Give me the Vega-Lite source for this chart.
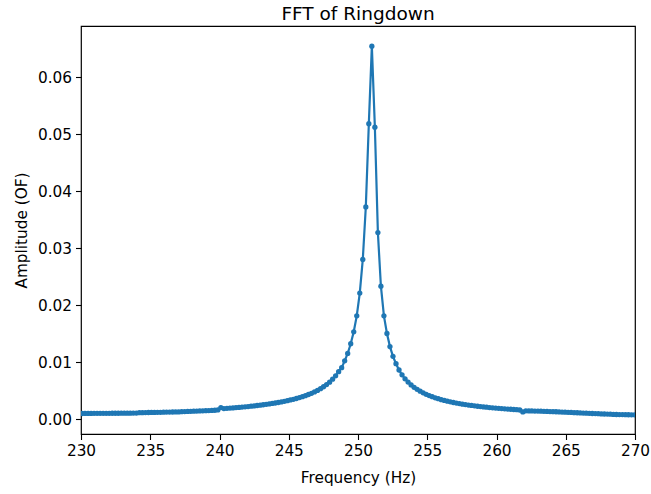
{
  "$schema": "https://vega.github.io/schema/vega-lite/v6.json",
  "width": 554,
  "height": 408,
  "autosize": "none",
  "padding": {"left": 81, "top": 26, "right": 16, "bottom": 60},
  "background": "white",
  "title": {"text": "FFT of Ringdown", "font": "DejaVu Sans", "fontSize": 18.5, "fontWeight": "normal", "color": "black", "anchor": "middle", "baseline": "alphabetic", "offset": -12},
  "data": {"values": [
    {"f": 229.854, "a": 0.00097}, {"f": 230.072, "a": 0.00097}, {"f": 230.290, "a": 0.00098}, {"f": 230.508, "a": 0.00098},
    {"f": 230.726, "a": 0.00098}, {"f": 230.944, "a": 0.00099}, {"f": 231.162, "a": 0.00099}, {"f": 231.380, "a": 0.00099},
    {"f": 231.598, "a": 0.00100}, {"f": 231.816, "a": 0.00100}, {"f": 232.034, "a": 0.00100}, {"f": 232.252, "a": 0.00101},
    {"f": 232.470, "a": 0.00101}, {"f": 232.688, "a": 0.00101}, {"f": 232.906, "a": 0.00102}, {"f": 233.124, "a": 0.00102},
    {"f": 233.342, "a": 0.00103}, {"f": 233.560, "a": 0.00103}, {"f": 233.778, "a": 0.00104}, {"f": 233.996, "a": 0.00104},
    {"f": 234.214, "a": 0.00111}, {"f": 234.432, "a": 0.00112}, {"f": 234.650, "a": 0.00113}, {"f": 234.868, "a": 0.00114},
    {"f": 235.086, "a": 0.00115}, {"f": 235.304, "a": 0.00116}, {"f": 235.522, "a": 0.00117}, {"f": 235.740, "a": 0.00118},
    {"f": 235.958, "a": 0.00119}, {"f": 236.176, "a": 0.00121}, {"f": 236.394, "a": 0.00122}, {"f": 236.612, "a": 0.00123},
    {"f": 236.830, "a": 0.00124}, {"f": 237.048, "a": 0.00125}, {"f": 237.266, "a": 0.00128}, {"f": 237.484, "a": 0.00131},
    {"f": 237.702, "a": 0.00133}, {"f": 237.920, "a": 0.00135}, {"f": 238.138, "a": 0.00137}, {"f": 238.356, "a": 0.00139},
    {"f": 238.574, "a": 0.00141}, {"f": 238.792, "a": 0.00143}, {"f": 239.010, "a": 0.00146}, {"f": 239.228, "a": 0.00148},
    {"f": 239.446, "a": 0.00151}, {"f": 239.664, "a": 0.00154}, {"f": 239.882, "a": 0.00160}, {"f": 240.100, "a": 0.00200},
    {"f": 240.318, "a": 0.00183}, {"f": 240.536, "a": 0.00187}, {"f": 240.754, "a": 0.00191}, {"f": 240.972, "a": 0.00195},
    {"f": 241.190, "a": 0.00200}, {"f": 241.408, "a": 0.00204}, {"f": 241.626, "a": 0.00209}, {"f": 241.844, "a": 0.00214},
    {"f": 242.062, "a": 0.00219}, {"f": 242.280, "a": 0.00225}, {"f": 242.498, "a": 0.00230}, {"f": 242.716, "a": 0.00237},
    {"f": 242.934, "a": 0.00243}, {"f": 243.152, "a": 0.00250}, {"f": 243.370, "a": 0.00257}, {"f": 243.588, "a": 0.00265},
    {"f": 243.806, "a": 0.00273}, {"f": 244.024, "a": 0.00281}, {"f": 244.242, "a": 0.00290}, {"f": 244.460, "a": 0.00300},
    {"f": 244.678, "a": 0.00310}, {"f": 244.896, "a": 0.00322}, {"f": 245.114, "a": 0.00334}, {"f": 245.332, "a": 0.00346},
    {"f": 245.550, "a": 0.00360}, {"f": 245.768, "a": 0.00376}, {"f": 245.986, "a": 0.00392}, {"f": 246.204, "a": 0.00410},
    {"f": 246.422, "a": 0.00430}, {"f": 246.640, "a": 0.00451}, {"f": 246.858, "a": 0.00475}, {"f": 247.076, "a": 0.00502},
    {"f": 247.294, "a": 0.00532}, {"f": 247.512, "a": 0.00566}, {"f": 247.730, "a": 0.00604}, {"f": 247.948, "a": 0.00647},
    {"f": 248.166, "a": 0.00698}, {"f": 248.384, "a": 0.00757}, {"f": 248.602, "a": 0.00830}, {"f": 248.820, "a": 0.00900},
    {"f": 249.038, "a": 0.01020}, {"f": 249.256, "a": 0.01150}, {"f": 249.474, "a": 0.01320}, {"f": 249.692, "a": 0.01530},
    {"f": 249.910, "a": 0.01810}, {"f": 250.128, "a": 0.02210}, {"f": 250.346, "a": 0.02800}, {"f": 250.564, "a": 0.03720},
    {"f": 250.782, "a": 0.05180}, {"f": 251.000, "a": 0.06540}, {"f": 251.218, "a": 0.05120}, {"f": 251.436, "a": 0.03270},
    {"f": 251.654, "a": 0.02330}, {"f": 251.872, "a": 0.01810}, {"f": 252.090, "a": 0.01500}, {"f": 252.308, "a": 0.01270},
    {"f": 252.526, "a": 0.01100}, {"f": 252.744, "a": 0.00970}, {"f": 252.962, "a": 0.00860}, {"f": 253.180, "a": 0.00775},
    {"f": 253.398, "a": 0.00705}, {"f": 253.616, "a": 0.00648}, {"f": 253.834, "a": 0.00598}, {"f": 254.052, "a": 0.00556},
    {"f": 254.270, "a": 0.00520}, {"f": 254.488, "a": 0.00488}, {"f": 254.706, "a": 0.00459}, {"f": 254.924, "a": 0.00434},
    {"f": 255.142, "a": 0.00411}, {"f": 255.360, "a": 0.00391}, {"f": 255.578, "a": 0.00372}, {"f": 255.796, "a": 0.00356},
    {"f": 256.014, "a": 0.00340}, {"f": 256.232, "a": 0.00326}, {"f": 256.450, "a": 0.00313}, {"f": 256.668, "a": 0.00301},
    {"f": 256.886, "a": 0.00290}, {"f": 257.104, "a": 0.00280}, {"f": 257.322, "a": 0.00270}, {"f": 257.540, "a": 0.00261},
    {"f": 257.758, "a": 0.00253}, {"f": 257.976, "a": 0.00245}, {"f": 258.194, "a": 0.00238}, {"f": 258.412, "a": 0.00231},
    {"f": 258.630, "a": 0.00224}, {"f": 258.848, "a": 0.00218}, {"f": 259.066, "a": 0.00212}, {"f": 259.284, "a": 0.00207},
    {"f": 259.502, "a": 0.00201}, {"f": 259.720, "a": 0.00196}, {"f": 259.938, "a": 0.00192}, {"f": 260.156, "a": 0.00187},
    {"f": 260.374, "a": 0.00183}, {"f": 260.592, "a": 0.00179}, {"f": 260.810, "a": 0.00175}, {"f": 261.028, "a": 0.00171},
    {"f": 261.246, "a": 0.00167}, {"f": 261.464, "a": 0.00164}, {"f": 261.682, "a": 0.00158}, {"f": 261.900, "a": 0.00125},
    {"f": 262.118, "a": 0.00143}, {"f": 262.336, "a": 0.00142}, {"f": 262.554, "a": 0.00141}, {"f": 262.772, "a": 0.00140},
    {"f": 262.990, "a": 0.00139}, {"f": 263.208, "a": 0.00137}, {"f": 263.426, "a": 0.00135}, {"f": 263.644, "a": 0.00133},
    {"f": 263.862, "a": 0.00131}, {"f": 264.080, "a": 0.00129}, {"f": 264.298, "a": 0.00127}, {"f": 264.516, "a": 0.00124},
    {"f": 264.734, "a": 0.00122}, {"f": 264.952, "a": 0.00120}, {"f": 265.170, "a": 0.00117}, {"f": 265.388, "a": 0.00115},
    {"f": 265.606, "a": 0.00112}, {"f": 265.824, "a": 0.00110}, {"f": 266.042, "a": 0.00107}, {"f": 266.260, "a": 0.00105},
    {"f": 266.478, "a": 0.00102}, {"f": 266.696, "a": 0.00100}, {"f": 266.914, "a": 0.00097}, {"f": 267.132, "a": 0.00095},
    {"f": 267.350, "a": 0.00093}, {"f": 267.568, "a": 0.00090}, {"f": 267.786, "a": 0.00088}, {"f": 268.004, "a": 0.00086},
    {"f": 268.222, "a": 0.00084}, {"f": 268.440, "a": 0.00081}, {"f": 268.658, "a": 0.00079}, {"f": 268.876, "a": 0.00078},
    {"f": 269.094, "a": 0.00077}, {"f": 269.312, "a": 0.00076}, {"f": 269.530, "a": 0.00075}, {"f": 269.748, "a": 0.00074},
    {"f": 269.966, "a": 0.00073}, {"f": 270.184, "a": 0.00072}
  ]},
  "encoding": {
    "x": {"field": "f", "type": "quantitative",
          "scale": {"domain": [230, 270], "nice": false, "zero": false},
          "axis": {"title": "Frequency (Hz)", "values": [230, 235, 240, 245, 250, 255, 260, 265, 270], "format": "d"}},
    "y": {"field": "a", "type": "quantitative",
          "scale": {"domain": [-0.00263, 0.06895], "nice": false, "zero": false},
          "axis": {"title": "Amplitude (OF)", "values": [0, 0.01, 0.02, 0.03, 0.04, 0.05, 0.06], "format": ".2f"}}
  },
  "layer": [
    {"mark": {"type": "line", "color": "#1f77b4", "strokeWidth": 2.2, "clip": true}},
    {"mark": {"type": "point", "filled": true, "color": "#1f77b4", "size": 28, "opacity": 1, "clip": true}}
  ],
  "config": {
    "view": {"stroke": "black", "strokeWidth": 1.2},
    "axis": {
      "domain": false,
      "grid": false,
      "ticks": true,
      "tickColor": "black",
      "tickSize": 5.5,
      "tickWidth": 1.1,
      "labelFont": "DejaVu Sans",
      "labelFontSize": 15.3,
      "labelColor": "black",
      "labelPadding": 4,
      "titleFont": "DejaVu Sans",
      "titleFontSize": 15.3,
      "titleFontWeight": "normal",
      "titleColor": "black"
    },
    "axisX": {"labelFlush": false, "titlePadding": 12},
    "axisY": {"titlePadding": 8}
  }
}
